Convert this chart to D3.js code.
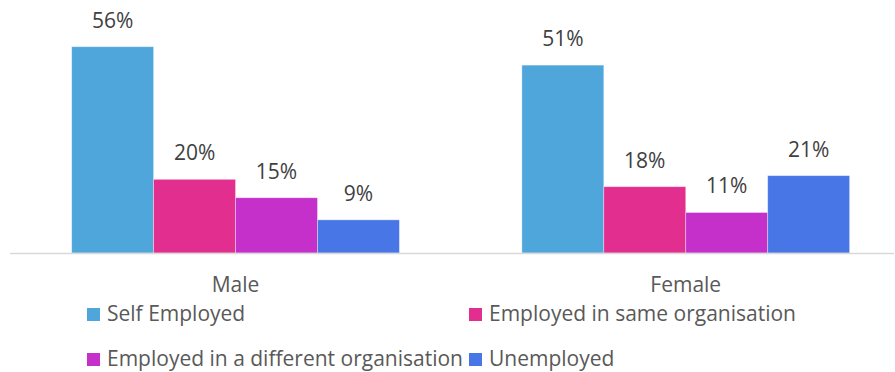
<!DOCTYPE html>
<html>
<head>
<meta charset="utf-8">
<script src="https://cdn.jsdelivr.net/npm/d3@7"></script>
<style>
html,body{margin:0;padding:0;background:#fff;}
svg{display:block;font-family:"Open Sans",sans-serif;}
</style>
</head>
<body>
<svg id="chart" width="895" height="372"></svg>
<script>
const categories = ["Male", "Female"];
const seriesNames = ["Self Employed", "Employed in same organisation", "Employed in a different organisation", "Unemployed"];
const selfEmployed = [56, 51];
const sameOrg = [20, 18];
const differentOrg = [15, 11];
const unemployed = [9, 21];
const colors = ["#4FA6DB", "#E22E8E", "#C52FCA", "#4876E6"];

const seriesValues = [selfEmployed, sameOrg, differentOrg, unemployed];
const data = categories.map((c, i) => ({
  cat: c,
  vals: seriesNames.map((s, j) => ({ series: s, value: seriesValues[j][i], color: colors[j] }))
}));

const svg = d3.select("#chart");
const baseY = 253;
const pxPerPct = 3.684;

const y = d3.scaleLinear().domain([0, 60]).range([baseY, baseY - 60 * pxPerPct]);
const x0 = d3.scaleBand().domain(categories).range([10, 911.3]).paddingInner(0.272).paddingOuter(0.137);
const x1 = d3.scaleBand().domain(seriesNames).range([0, x0.bandwidth()]).padding(0);

const groups = svg.selectAll("g.grp").data(data).enter().append("g")
  .attr("class", "grp")
  .attr("transform", d => `translate(${x0(d.cat)},0)`);

groups.selectAll("rect").data(d => d.vals).enter().append("rect")
  .attr("x", d => x1(d.series))
  .attr("y", d => y(d.value))
  .attr("width", x1.bandwidth())
  .attr("height", d => y(0) - y(d.value))
  .attr("fill", d => d.color)
  .attr("stroke", "#ffffff")
  .attr("stroke-opacity", 0.45)
  .attr("stroke-width", 0.8);

groups.selectAll("text.lbl").data(d => d.vals).enter().append("text")
  .attr("class", "lbl")
  .attr("x", d => x1(d.series) + x1.bandwidth() / 2)
  .attr("y", d => y(d.value) - 19)
  .attr("text-anchor", "middle")
  .attr("font-size", 21)
  .attr("fill", "#404040")
  .text(d => d.value + "%");

// axis line
svg.append("line")
  .attr("x1", 10).attr("x2", 894)
  .attr("y1", baseY + 0.5).attr("y2", baseY + 0.5)
  .attr("stroke", "#d9d9d9").attr("stroke-width", 1.5);

// category labels via axis
const xAxis = d3.axisBottom(x0).tickSize(0).tickPadding(0);
const ax = svg.append("g").attr("transform", `translate(0,${baseY})`).call(xAxis);
ax.select(".domain").remove();
ax.selectAll("text")
  .attr("y", 38.5).attr("dy", 0)
  .attr("font-size", 21)
  .attr("font-family", "Open Sans, sans-serif")
  .attr("fill", "#595959");

// legend
const legendPos = [[87, 308], [469, 308], [87, 353], [469, 353]];
const leg = svg.selectAll("g.leg").data(seriesNames).enter().append("g")
  .attr("class", "leg")
  .attr("transform", (d, i) => `translate(${legendPos[i][0]},${legendPos[i][1]})`);
leg.append("rect").attr("width", 13).attr("height", 13).attr("fill", (d, i) => colors[i]);
leg.append("text")
  .attr("x", 20).attr("y", 13)
  .attr("font-size", 21)
  .attr("fill", "#595959")
  .text(d => d);
</script>
</body>
</html>
